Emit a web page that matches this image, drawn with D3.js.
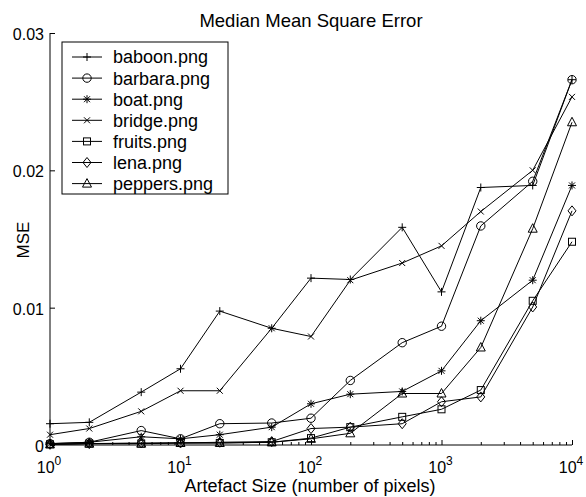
<!DOCTYPE html>
<html>
<head>
<meta charset="utf-8">
<script src="https://cdn.jsdelivr.net/npm/d3@7"></script>
<style>
  body { margin: 0; background: #fff; }
  text { font-family: "Liberation Sans", Arial, sans-serif; fill: #000; }
</style>
</head>
<body>
<div class="canvas"></div>
<script>
// data (MSE values in units of 0.001)
const sizes = [1, 2, 5, 10, 20, 50, 100, 200, 500, 1000, 2000, 5000, 10000];
const baboon  = [1.55, 1.65, 3.85, 5.55, 9.75, 8.5, 12.15, 12.05, 15.85, 11.15, 18.75, 18.9, 26.6];
const barbara = [0.1, 0.2, 1.05, 0.45, 1.55, 1.6, 1.95, 4.7, 7.45, 8.65, 15.95, 19.2, 26.6];
const boat    = [0.1, 0.2, 0.6, 0.45, 0.75, 1.3, 3.0, 3.7, 3.9, 5.4, 9.05, 12.0, 18.9];
const bridge  = [0.75, 1.2, 2.45, 3.95, 3.95, 8.5, 7.9, 12.0, 13.25, 14.5, 17.0, 20.0, 25.35];
const fruits  = [0.05, 0.1, 0.1, 0.15, 0.15, 0.2, 0.5, 1.3, 2.05, 2.6, 4.0, 10.5, 14.8];
const lena    = [0.05, 0.1, 0.15, 0.15, 0.2, 0.25, 1.2, 1.3, 1.55, 3.15, 3.5, 10.05, 17.05];
const peppers = [0.05, 0.1, 0.1, 0.15, 0.15, 0.2, 0.45, 0.85, 3.75, 3.75, 7.1, 15.75, 23.5];

const names = ["baboon.png", "barbara.png", "boat.png", "bridge.png", "fruits.png", "lena.png", "peppers.png"];
const symbols = ["plus", "circle", "star", "cross", "square", "diamond", "triangle"];
const seriesValues = [baboon, barbara, boat, bridge, fruits, lena, peppers];

const yTicks = [0, 0.01, 0.02, 0.03];
const xMajor = [1, 10, 100, 1000, 10000];

const W = 586, H = 497;
const svg = d3.select(".canvas").append("svg").attr("width", W).attr("height", H);

// scales
const x = d3.scaleLog().domain([1, 10000]).range([50, 572]);
const y = d3.scaleLinear().domain([0, 0.03]).range([445, 33]);

// marker drawer
const drawMarker = (g, type, cx, cy) => {
  const s = g.append("g").attr("transform", `translate(${cx},${cy})`)
    .attr("fill", "none").attr("stroke", "#000").attr("stroke-width", 1);
  if (type === "plus" || type === "star") {
    s.append("path").attr("d", "M-4,0H4M0,-4V4");
  }
  if (type === "cross" || type === "star") {
    s.append("path").attr("d", "M-3,-3L3,3M-3,3L3,-3");
  }
  if (type === "circle") s.append("circle").attr("r", 4.2);
  if (type === "square") s.append("rect").attr("x", -3.5).attr("y", -3.5).attr("width", 7).attr("height", 7);
  if (type === "diamond") s.append("path").attr("d", "M0,-5L4,0L0,5L-4,0Z");
  if (type === "triangle") s.append("path").attr("d", "M0,-5L4.5,3.5H-4.5Z");
};

// axes
const yAxis = d3.axisLeft(y).tickValues(yTicks).tickSize(-5).tickPadding(6)
  .tickFormat(d => d === 0 ? "0" : d3.format(".2f")(d));
const yAxisGroup = svg.append("g").attr("transform", "translate(50,0)").call(yAxis);
yAxisGroup.select(".domain").attr("d", `M0,${y(0)}V${y(0.03)}`);
yAxisGroup.selectAll("text").style("font-size", "16px").attr("dy", "0.4em");

const minor = [];
for (let p = 0; p < 4; p++) for (let k = 2; k <= 9; k++) minor.push(k * Math.pow(10, p));

const xAxisGroup = svg.append("g").attr("transform", `translate(0,${y(0)})`);
xAxisGroup.call(d3.axisBottom(x).tickValues(xMajor).tickSize(-5).tickFormat(""));
xAxisGroup.select(".domain").attr("d", `M${x(1)},0H${x(10000)}`);
xAxisGroup.append("g").call(d3.axisBottom(x).tickValues(minor).tickSize(-3).tickFormat(""))
  .select(".domain").remove();

// x tick labels as 10^n
xMajor.forEach(v => {
  const t = svg.append("text").attr("x", x(v) - 1).attr("y", 473)
    .attr("text-anchor", "middle").style("font-size", "16px");
  t.append("tspan").text("10");
  t.append("tspan").attr("dy", "-8").style("font-size", "12px").text(Math.round(Math.log10(v)));
});

// lines
const line = d3.line().x(d => x(d[0])).y(d => y(d[1] / 1000));
seriesValues.forEach((vals, i) => {
  const pts = sizes.map((s, j) => [s, vals[j]]);
  svg.append("path").datum(pts).attr("d", line)
    .attr("fill", "none").attr("stroke", "#000").attr("stroke-width", 1);
  const mg = svg.append("g");
  pts.forEach(p => drawMarker(mg, symbols[i], x(p[0]), y(p[1] / 1000)));
});

// titles
svg.append("text").attr("x", 311).attr("y", 27).attr("text-anchor", "middle")
  .style("font-size", "18.5px").text("Median Mean Square Error");
svg.append("text").attr("x", 310).attr("y", 492).attr("text-anchor", "middle")
  .style("font-size", "18px").text("Artefact Size (number of pixels)");
svg.append("text").attr("transform", "translate(29,240) rotate(-90)").attr("text-anchor", "middle")
  .style("font-size", "17px").text("MSE");

// legend
const legend = svg.append("g");
legend.append("rect").attr("x", 62).attr("y", 42).attr("width", 166).attr("height", 152)
  .attr("fill", "#fff").attr("stroke", "#000").attr("stroke-width", 1);
names.forEach((n, i) => {
  const ly = 57 + i * 21.1;
  legend.append("line").attr("x1", 72).attr("x2", 102).attr("y1", ly).attr("y2", ly)
    .attr("stroke", "#000").attr("stroke-width", 1);
  drawMarker(legend, symbols[i], 87, ly);
  legend.append("text").attr("x", 113).attr("y", ly).attr("dy", "0.36em")
    .style("font-size", "18px").text(n);
});
</script>
</body>
</html>
